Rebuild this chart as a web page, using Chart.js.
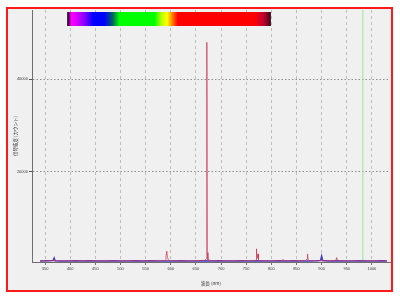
<!DOCTYPE html>
<html>
<head>
<meta charset="utf-8">
<script src="https://cdn.jsdelivr.net/npm/chart.js@4/dist/chart.umd.min.js"></script>
<style>
  html, body { margin: 0; padding: 0; background: #ffffff; }
  #frame { position: absolute; left: 6px; top: 7px; width: 383px; height: 281px; border: 2px solid #ff1a1a; background: #f0f0f0; }
  #spec { position: absolute; left: 0; top: 0; }
</style>
</head>
<body>
<div id="frame"></div>
<canvas id="spec" width="400" height="300"></canvas>
<script>
// wavelength (nm) / counts for the red spectrum
var redWl = [
  340, 352, 364, 376, 388, 400, 412, 424, 436, 448,
  460, 472, 484, 496, 508, 520, 532, 544, 556, 568,
  580, 589, 590.5, 592, 593.5, 596, 608, 620, 632, 644,
  656, 668, 671, 671.5, 672, 672.5, 674, 684, 696, 708,
  720, 732, 744, 756, 766, 769.5, 770.5, 771.5, 773.5, 774.5,
  775.5, 780, 792, 804, 816, 822, 823, 824, 834, 846,
  858, 868, 871, 872, 873, 876, 888, 900, 912, 924,
  928.5, 930, 931.5, 940, 952, 964, 976, 988, 1000, 1012,
  1024, 1030
];
var redCounts = [
  720, 680, 760, 700, 650, 740, 690, 720, 660, 750,
  700, 680, 730, 660, 710, 760, 690, 650, 720, 700,
  740, 760, 1600, 2800, 1400, 780, 690, 720, 680, 710,
  740, 800, 1200, 44800, 48000, 2500, 900, 720, 680, 700,
  710, 690, 730, 700, 760, 800, 3300, 1200, 2200, 1000,
  760, 720, 690, 740, 700, 760, 1000, 720, 680, 710,
  730, 780, 1100, 2200, 900, 740, 700, 720, 690, 740,
  820, 1400, 780, 700, 680, 720, 700, 690, 710, 680,
  700, 690
];

// blue spectrum
var blueWl = [
  340, 355, 366, 368, 370, 380, 395, 410, 425, 440,
  455, 470, 485, 500, 515, 530, 545, 560, 575, 590,
  605, 620, 635, 650, 665, 680, 695, 710, 725, 740,
  755, 770, 785, 800, 815, 830, 845, 860, 875, 890,
  898, 900, 902, 915, 930, 945, 960, 975, 990, 1005,
  1020, 1030
];
var blueCounts = [
  650, 700, 760, 1300, 720, 680, 640, 700, 660, 720,
  680, 640, 700, 660, 690, 720, 650, 700, 670, 690,
  660, 710, 680, 650, 700, 680, 720, 660, 690, 700,
  670, 700, 660, 690, 720, 680, 700, 660, 690, 710,
  800, 1700, 780, 680, 700, 660, 690, 720, 670, 690,
  700, 680
];

var markerWl = 982;

var xTicks = [350, 400, 450, 500, 550, 600, 650, 700, 750, 800, 850, 900, 950, 1000];
var yTicks = [20000, 40000];
var xMin = 324, xMax = 1036;
var yMin = 450, yMax = 55000;

// colour bar along the top (nm -> colour)
var barWl = [394, 397, 402, 412, 432, 446, 468, 484, 498, 568, 582, 593, 603, 614, 766, 784, 796, 799];
var barColors = ['#000000', '#500050', '#ff00ff', '#e000ff', '#7000ff', '#0000ff', '#0000ff', '#006060', '#00ff00',
                 '#00ff00', '#c0ff00', '#ffff00', '#ff8000', '#ff0000', '#ff0000', '#c00030', '#600018', '#000000'];

function toPoints(xs, ys) {
  return xs.map(function (v, i) { return { x: v, y: ys[i] }; });
}

var colorBar = {
  id: 'colorBar',
  beforeDatasetsDraw: function (chart) {
    var ctx = chart.ctx, xs = chart.scales.x, area = chart.chartArea;
    var x0 = xs.getPixelForValue(barWl[0]);
    var x1 = xs.getPixelForValue(barWl[barWl.length - 1]);
    var g = ctx.createLinearGradient(x0, 0, x1, 0);
    barWl.forEach(function (w, i) {
      g.addColorStop((xs.getPixelForValue(w) - x0) / (x1 - x0), barColors[i]);
    });
    ctx.save();
    ctx.fillStyle = g;
    ctx.fillRect(x0, area.top + 2, x1 - x0, 14);
    ctx.restore();
  }
};

var tickFont = { family: 'Liberation Sans', size: 4 };
var titleFont = { family: 'Noto Sans CJK JP', size: 4.5 };
var plainNum = function (v) { return String(v); };

new Chart(document.getElementById('spec'), {
  type: 'line',
  data: {
    datasets: [
      { data: [{ x: markerWl, y: yMin }, { x: markerWl, y: yMax }], borderColor: '#9ae69a', borderWidth: 1, order: 3 },
      { data: toPoints(blueWl, blueCounts), borderColor: 'rgba(60,50,200,0.95)', borderWidth: 1.5, order: 2 },
      { data: toPoints(redWl, redCounts), borderColor: 'rgba(200,50,80,0.7)', borderWidth: 1, order: 1 }
    ]
  },
  options: {
    responsive: false,
    animation: false,
    events: [],
    layout: { padding: { left: 0, top: 10, right: 10, bottom: 0 } },
    elements: { point: { radius: 0 }, line: { tension: 0 } },
    plugins: { legend: { display: false }, tooltip: { enabled: false } },
    scales: {
      x: {
        type: 'linear', min: xMin, max: xMax,
        afterBuildTicks: function (s) { s.ticks = xTicks.map(function (v) { return { value: v }; }); },
        afterFit: function (s) { s.height = 38; },
        ticks: { font: tickFont, color: '#404040', padding: 1, maxRotation: 0, autoSkip: false, callback: plainNum },
        grid: { color: '#bdbdbd', lineWidth: 1, tickLength: 3, tickColor: '#707070', tickBorderDash: [] },
        border: { display: true, color: '#6e6e6e', width: 1, dash: [3, 3] },
        title: { display: true, text: '波長 (nm)', font: titleFont, color: '#303030', padding: { top: 0, bottom: 14 } }
      },
      y: {
        min: yMin, max: yMax,
        afterBuildTicks: function (s) { s.ticks = yTicks.map(function (v) { return { value: v }; }); },
        afterFit: function (s) { s.width = 32; },
        ticks: { font: tickFont, color: '#404040', padding: 1, callback: plainNum },
        grid: { color: '#8c8c8c', lineWidth: 1, tickLength: 3, tickColor: '#505050', tickBorderDash: [] },
        border: { display: true, color: '#6e6e6e', width: 1, dash: [1.5, 2] },
        title: { display: true, text: '信号強度 (カウント)', font: titleFont, color: '#303030', padding: { top: 13, bottom: 0 } }
      }
    }
  },
  plugins: [colorBar]
});
</script>
</body>
</html>
